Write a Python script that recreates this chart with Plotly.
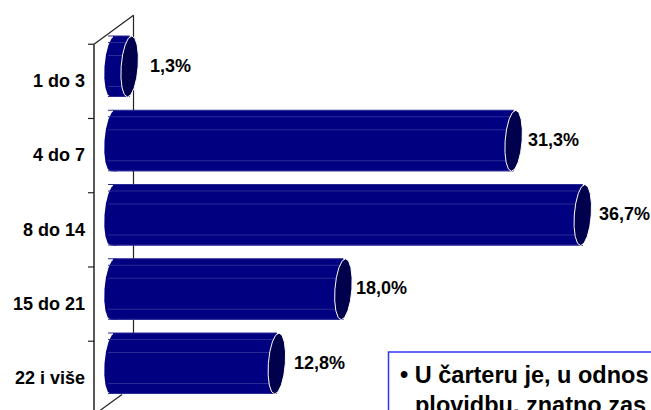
import numpy as np
import plotly.graph_objects as go

# data
categories = ["1 do 3", "4 do 7", "8 do 14", "15 do 21", "22 i više"]
values = [1.3, 31.3, 36.7, 18.0, 12.8]
value_labels = ["1,3%", "31,3%", "36,7%", "18,0%", "12,8%"]
box_lines = ["• U čarteru je, u odnos", "plovidbu, znatno zas"]

W, H = 651, 410
# pixel scale of the axes: x zero at 113px, 12.8 px per percent, rows 74.25 px apart
PX_PER_X = 12.8
PX_PER_Y = 74.25
X_RANGE = [-113 / PX_PER_X, (W - 113) / PX_PER_X]
Y_RANGE = [(H - 66.5) / PX_PER_Y, -66.5 / PX_PER_Y]

NAVY = "#000080"
CAP = "#00004d"
STRIPE = "#2b2b96"
BAR_WIDTH = 61 / PX_PER_Y
LABEL_SHIFT = [18, 12, 14, 11, 15]  # gap between cap centre and value label


def dx(px):
    return px / PX_PER_X


def dy(px):
    return px / PX_PER_Y


def ellipse_path(cx, cy, half=False):
    # slightly skewed polygonal ellipse, like the end of the 3D bar
    angles = np.linspace(0, 2 * np.pi, 17)[:-1]
    if half:
        angles = np.linspace(np.pi / 2, 3 * np.pi / 2, 9)
    pts = []
    for a in angles:
        y_off = -np.sin(a) * 30.5
        x_off = np.cos(a) * 8.5 - y_off * 0.07
        pts.append((cx + dx(x_off), cy + dy(y_off)))
    if half:
        # run a little under the bar so no gap shows at the seam
        pts.append((cx + dx(4), cy + dy(30.5)))
        pts.append((cx + dx(4), cy - dy(30.5)))
    return "M " + " L ".join(f"{x:.3f},{y:.3f}" for x, y in pts) + " Z"


def line(x0, y0, x1, y1, color="#222222", width=1.2, layer="below"):
    return dict(type="line", xref="x", yref="y", x0=x0, y0=y0, x1=x1, y1=y1,
                line=dict(color=color, width=width), layer=layer)


rows = list(range(len(categories)))

fig = go.Figure(
    go.Bar(
        y=rows,
        x=values,
        orientation="h",
        width=BAR_WIDTH,
        marker=dict(color=NAVY, line=dict(width=0)),
        hoverinfo="skip",
    )
)

shapes = []

# axis frame: front line, back wall and the two floor/ceiling diagonals
top = -0.3
shapes.append(line(dx(-19), top, dx(-19), Y_RANGE[0], width=1.5))
shapes.append(line(dx(-19), top, dx(20.5), top - dy(29)))
shapes.append(line(dx(20.5), top - dy(29), dx(20.5), 3.6))
shapes.append(line(dx(9), 4 + dy(31), dx(-13), 4 + dy(47)))
for i in rows:
    tick_y = i - 0.3 if i < 4 else 3.7
    shapes.append(line(dx(-25), tick_y, dx(-19), tick_y, width=1.2))

for i, v in zip(rows, values):
    # rounded left end of the bar
    shapes.append(dict(type="path", xref="x", yref="y", path=ellipse_path(0, i, half=True),
                       fillcolor=NAVY, line=dict(width=0), layer="above"))
    # facet highlights along the cylinder
    for off in [-30.5, -24, -11, 20, 30]:
        shapes.append(line(dx(-5), i + dy(off), v, i + dy(off), color=STRIPE, width=1, layer="above"))
    # dark end cap with thin white outline
    shapes.append(dict(type="path", xref="x", yref="y", path=ellipse_path(v, i),
                       fillcolor=CAP, line=dict(color="white", width=1), layer="above"))

# text box in the lower right corner, cut off by the page
shapes.append(dict(type="rect", xref="paper", yref="paper", x0=388.5 / W, x1=1.01,
                   y0=-0.05, y1=1 - 352 / H, fillcolor="white",
                   line=dict(color="#3333ff", width=1.5), layer="above"))

annotations = []
for i, (cat, lab, v, shift) in enumerate(zip(categories, value_labels, values, LABEL_SHIFT)):
    annotations.append(dict(x=87 / W, xref="paper", y=i + dy(14.5), yref="y", text=f"<b>{cat}</b>",
                            showarrow=False, xanchor="right", yanchor="middle", font=dict(size=18)))
    annotations.append(dict(x=v, y=i - dy(1), xref="x", yref="y", text=f"<b>{lab}</b>", xshift=shift,
                            showarrow=False, xanchor="left", yanchor="middle", font=dict(size=18)))

for text, x_px, y_px in zip(box_lines, [398, 413], [375, 405]):
    annotations.append(dict(x=x_px / W, xref="paper", y=1 - y_px / H, yref="paper", text=f"<b>{text}</b>",
                            showarrow=False, xanchor="left", yanchor="middle", font=dict(size=23.5)))

fig.update_layout(
    width=W,
    height=H,
    margin=dict(l=0, r=0, t=0, b=0),
    paper_bgcolor="white",
    plot_bgcolor="white",
    showlegend=False,
    font=dict(family="Liberation Sans", color="black"),
    xaxis=dict(range=X_RANGE, visible=False, fixedrange=True),
    yaxis=dict(range=Y_RANGE, visible=False, fixedrange=True),
    shapes=shapes,
    annotations=annotations,
)

# the page's default body margin would push the chart off the window
fig.write_html("out.html", config=dict(displayModeBar=False),
               post_script="document.body.style.margin='0';document.documentElement.style.overflow='hidden';")
